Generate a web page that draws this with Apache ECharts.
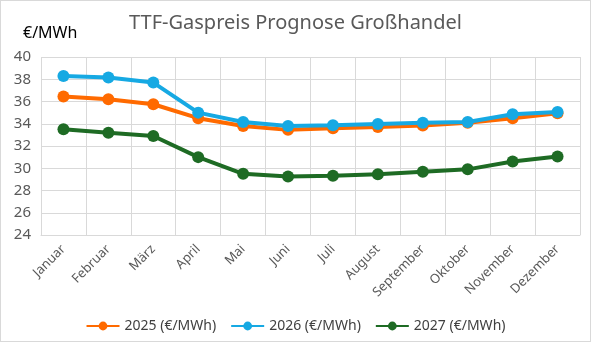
<!DOCTYPE html>
<html><head><meta charset="utf-8">
<script src="https://cdn.jsdelivr.net/npm/echarts@6/dist/echarts.min.js"></script>
<style>html,body{margin:0;padding:0;background:#fff}#c{width:591px;height:342px;box-sizing:border-box;border:1px solid #d9d9d9}</style>
</head><body><div id="c"></div>
<script>
const categories = ['Januar','Februar','März','April','Mai','Juni','Juli','August','September','Oktober','November','Dezember'];
const s2025 = [36.45,36.2,35.75,34.5,33.8,33.45,33.6,33.7,33.85,34.1,34.5,34.95];
const s2026 = [38.3,38.15,37.7,35.0,34.15,33.8,33.87,33.98,34.08,34.16,34.85,35.05];
const s2027 = [33.5,33.2,32.9,31.0,29.5,29.25,29.33,29.47,29.68,29.9,30.6,31.05];
const names = ['2025 (€/MWh)','2026 (€/MWh)','2027 (€/MWh)'];
const colors = ['#FF6A00','#16A9E3','#1E6B24'];
const chart = echarts.init(document.getElementById('c'));
const mk = (name, data, color, z) => ({
  name, type:'line', data, color, z,
  symbol:'circle', symbolSize:12,
  lineStyle:{width:4,color}, itemStyle:{color}
});
chart.setOption({
  animation:false,
  title:[{text:'TTF-Gaspreis Prognose Großhandel',left:'center',top:7,
    textStyle:{fontFamily:'Noto Sans',fontSize:20,fontWeight:'normal',color:'#595959'}},
    {text:'€/MWh',left:17,top:19,textStyle:{fontFamily:'Noto Sans',fontSize:16,fontWeight:'normal',color:'#000'}}],
  grid:{left:40,right:10,top:56,bottom:106},
  legend:{bottom:3,left:'center',itemWidth:33,itemHeight:11,itemGap:14,
    textStyle:{fontFamily:'Noto Sans',fontSize:14,color:'#404040'},data:names},
  xAxis:{type:'category',data:categories,boundaryGap:true,
    axisLine:{lineStyle:{color:'#d9d9d9'}},axisTick:{show:false},
    splitLine:{show:true,lineStyle:{color:'#d9d9d9'}},
    axisLabel:{rotate:45,interval:0,fontFamily:'Noto Sans',fontSize:13,color:'#595959',margin:12}},
  yAxis:{type:'value',min:24,max:40,interval:2,
    axisLine:{show:false},axisTick:{show:false},
    splitLine:{lineStyle:{color:'#d9d9d9'}},
    axisLabel:{fontFamily:'Noto Sans',fontSize:15,color:'#595959',margin:10}},
  series:[mk(names[0],s2025,colors[0],3),mk(names[1],s2026,colors[1],4),mk(names[2],s2027,colors[2],2)]
});
</script></body></html>
